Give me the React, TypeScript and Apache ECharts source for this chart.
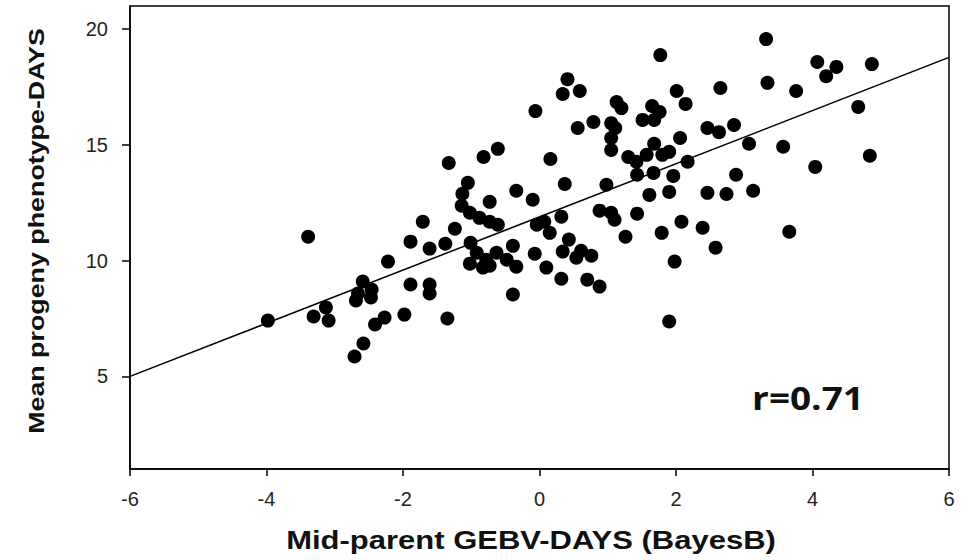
import React, { useEffect, useRef } from "react";
import * as echarts from "echarts";

// Mid-parent GEBV (x) and mean progeny phenotype (y)
const gebv: number[] = [
  -3.98, -3.39, -3.31, -3.13, -3.09, -2.71, -2.58, -2.59, -2.46, -2.47,
  -2.69, -2.66, -2.41, -2.27, -1.98, -1.89, -1.61, -1.61, -1.35, -2.22,
  -1.89, -1.61, -1.38, -1.71, -1.24, -1.33, -1.05, -1.13, -1.14, -1.02,
  -0.88, -0.73, -0.61, -1.01, -0.92, -1.02, -0.83, -0.78, -0.63, -0.48,
  -0.39, -0.34, -0.73, -0.39, -0.82, -0.61, -0.73, -0.34, -0.10, -0.06,
  -0.04, 0.07, 0.32, 0.15, 0.43, -0.07, 0.10, 0.32, 0.34, 0.61,
  0.76, 0.54, 0.70, 0.88, 0.16, 0.37, 0.41, 0.34, 0.59, 0.56,
  0.79, 1.05, 1.11, 1.05, 1.05, 1.13, 1.20, 0.98, 0.88, 1.05,
  1.10, 1.43, 1.26, 1.30, 1.42, 1.57, 1.80, 1.90, 1.68, 1.43,
  1.67, 1.96, 1.61, 1.90, 1.77, 1.51, 1.68, 1.65, 1.76, 2.01,
  2.14, 2.06, 2.17, 1.79, 2.08, 1.98, 1.90, 2.39, 2.46, 2.46,
  2.58, 2.65, 2.63, 2.85, 3.07, 2.88, 2.74, 3.13, 3.32, 3.34,
  3.76, 3.57, 3.66, 4.04, 4.07, 4.35, 4.20, 4.87, 4.67, 4.84,
];
const phenotype: number[] = [
  7.41, 11.03, 7.59, 7.98, 7.41, 5.86, 6.42, 9.10, 8.75, 8.41,
  8.28, 8.58, 7.24, 7.54, 7.67, 8.97, 8.97, 8.58, 7.50, 9.96,
  10.82, 10.52, 10.73, 11.68, 11.38, 14.22, 13.36, 12.89, 12.37, 12.07,
  11.85, 11.68, 11.55, 10.77, 10.34, 9.87, 9.70, 10.04, 10.34, 10.04,
  10.64, 9.74, 9.78, 8.54, 14.48, 14.83, 12.54, 13.02, 12.63, 16.46,
  11.55, 11.68, 11.90, 11.20, 10.91, 10.30, 9.70, 9.22, 10.39, 10.43,
  10.21, 10.13, 9.18, 8.88, 14.39, 13.31, 17.84, 17.20, 17.33, 15.73,
  15.99, 15.94, 15.73, 15.30, 14.78, 16.85, 16.59, 13.28, 12.16, 12.07,
  11.77, 12.03, 11.03, 14.48, 14.27, 14.57, 14.57, 14.70, 15.05, 13.71,
  13.79, 13.66, 12.84, 12.97, 18.88, 16.08, 16.08, 16.68, 16.42, 17.33,
  16.77, 15.30, 14.27, 11.20, 11.68, 9.96, 7.37, 11.42, 12.93, 15.73,
  10.56, 17.46, 15.55, 15.86, 15.05, 13.71, 12.88, 13.02, 19.57, 17.68,
  17.33, 14.92, 11.25, 14.05, 18.58, 18.37, 17.97, 18.49, 16.64, 14.53,
];

// Fitted regression line end points
const fitX: number[] = [-6, 6];
const fitY: number[] = [5.0, 18.78];

const yTicks: number[] = [5, 10, 15, 20];
const xTitle = "Mid-parent GEBV-DAYS (BayesB)";
const yTitle = "Mean progeny phenotype-DAYS";
const rLabel = "r=0.71";

export default function App() {
  const ref = useRef<HTMLDivElement>(null);
  useEffect(() => {
    if (!ref.current) return;
    const chart = echarts.init(ref.current, undefined, { renderer: "svg" });
    const points = gebv.map((x, i) => [x, phenotype[i]]);
    const fit = fitX.map((x, i) => [x, fitY[i]]);
    chart.setOption({
      animation: false,
      backgroundColor: "#ffffff",
      grid: {
        left: 130,
        right: 12,
        top: 6,
        bottom: 91,
        show: true,
        borderColor: "#000",
        borderWidth: 1.5,
        backgroundColor: "transparent",
      },
      xAxis: {
        type: "value",
        min: -6,
        max: 6,
        interval: 2,
        splitLine: { show: false },
        axisLine: { onZero: false, lineStyle: { color: "#000", width: 1.5 } },
        axisTick: { show: true, length: 7, lineStyle: { color: "#000", width: 1.5 } },
        axisLabel: {
          color: "#222",
          fontFamily: "Liberation Sans, Arial, sans-serif",
          fontSize: 20,
          margin: 20,
        },
      },
      yAxis: {
        type: "value",
        min: 1,
        max: 21,
        splitLine: { show: false },
        axisLine: { onZero: false, lineStyle: { color: "#000", width: 1.5 } },
        axisTick: {
          show: true,
          length: 8,
          customValues: yTicks,
          lineStyle: { color: "#000", width: 1.5 },
        },
        axisLabel: {
          color: "#222",
          fontFamily: "Liberation Sans, Arial, sans-serif",
          fontSize: 20,
          margin: 22,
          customValues: yTicks,
        },
      },
      graphic: [
        {
          type: "text",
          x: 531,
          y: 541,
          scaleX: 1.24,
          style: {
            text: xTitle,
            fill: "#111",
            font: "bold 25px 'Liberation Sans', Arial, sans-serif",
            textAlign: "center",
            textVerticalAlign: "middle",
          },
        },
        {
          type: "text",
          x: 36,
          y: 231,
          rotation: Math.PI / 2,
          scaleX: 1.22,
          style: {
            text: yTitle,
            fill: "#111",
            font: "bold 22px 'Liberation Sans', Arial, sans-serif",
            textAlign: "center",
            textVerticalAlign: "middle",
          },
        },
        {
          type: "text",
          x: 808,
          y: 397,
          scaleX: 1.12,
          style: {
            text: rLabel,
            fill: "#111",
            font: "bold 33px 'Open Sans', 'Liberation Sans', sans-serif",
            textAlign: "center",
            textVerticalAlign: "middle",
          },
        },
      ],
      series: [
        {
          type: "line",
          data: fit,
          symbol: "none",
          lineStyle: { color: "#000", width: 1.5 },
          z: 3,
        },
        {
          type: "scatter",
          data: points,
          symbol: "circle",
          symbolSize: 14,
          itemStyle: { color: "#000", opacity: 1 },
          z: 2,
        },
      ],
    });
    return () => chart.dispose();
  }, []);
  return (
    <div
      ref={ref}
      style={{ position: "fixed", left: 0, top: 0, width: 961, height: 560, background: "#fff" }}
    />
  );
}
